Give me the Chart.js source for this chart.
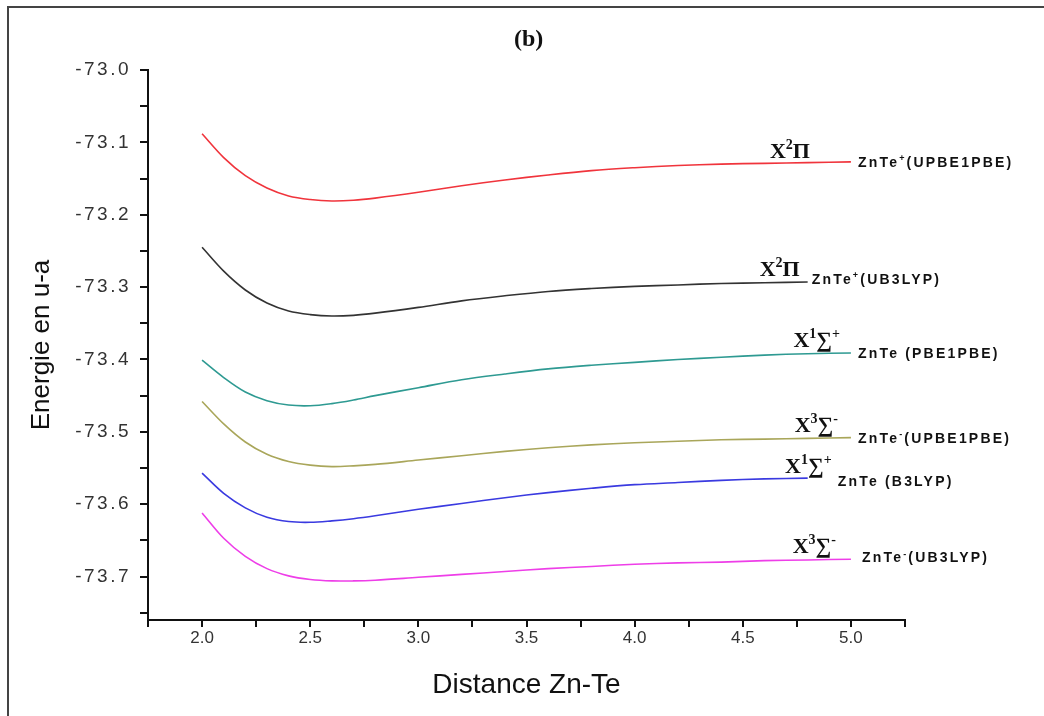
<!DOCTYPE html>
<html>
<head>
<meta charset="utf-8">
<script src="https://cdn.jsdelivr.net/npm/chart.js@4/dist/chart.umd.min.js"></script>
<style>
  html, body { margin: 0; padding: 0; background: #fff; }
  #wrap { position: relative; width: 1044px; height: 716px; }
  #frame { position: absolute; left: 7px; top: 6px; right: -4px; bottom: -4px;
           border-left: 2px solid #444; border-top: 2px solid #444; pointer-events: none; }
</style>
</head>
<body>
<div id="wrap">
  <canvas id="chart" width="1044" height="716"></canvas>
  <div id="frame"></div>
</div>
<script>
// distances (x) shared by all curves
const distance = [2.0, 2.1, 2.2, 2.3, 2.4, 2.5, 2.6, 2.7, 2.8, 3.0, 3.2, 3.4, 3.6, 3.8, 4.0, 4.2, 4.4, 4.6, 4.8, 5.0];

// energies (u-a)
const cationPBE = [-73.088, -73.121, -73.146, -73.163, -73.174, -73.179, -73.181, -73.180, -73.177, -73.169,
  -73.160, -73.152, -73.145, -73.139, -73.135, -73.132, -73.130, -73.129, -73.128, -73.127];
const cationB3LYP = [-73.245, -73.278, -73.304, -73.322, -73.333, -73.338, -73.340, -73.339, -73.336, -73.328,
  -73.319, -73.312, -73.306, -73.302, -73.299, -73.297, -73.295, -73.294, -73.293];
const neutralPBE = [-73.401, -73.425, -73.445, -73.457, -73.463, -73.464, -73.461, -73.456, -73.450, -73.439,
  -73.428, -73.420, -73.413, -73.408, -73.404, -73.400, -73.397, -73.394, -73.392, -73.391];
const anionPBE = [-73.458, -73.489, -73.514, -73.531, -73.541, -73.546, -73.548, -73.547, -73.545, -73.539,
  -73.533, -73.527, -73.522, -73.518, -73.515, -73.513, -73.511, -73.510, -73.509, -73.508];
const neutralB3LYP = [-73.557, -73.585, -73.605, -73.618, -73.624, -73.625, -73.623, -73.620, -73.616, -73.607,
  -73.599, -73.591, -73.584, -73.578, -73.573, -73.570, -73.567, -73.565, -73.564];
const anionB3LYP = [-73.612, -73.647, -73.672, -73.689, -73.699, -73.704, -73.706, -73.706, -73.705, -73.701,
  -73.697, -73.693, -73.689, -73.686, -73.683, -73.681, -73.680, -73.678, -73.677, -73.676];

// labels: [text, isSuperscript]
const stateLabels = [
  [["X", 0], ["2", 1], ["Π", 0]],
  [["X", 0], ["2", 1], ["Π", 0]],
  [["X", 0], ["1", 1], ["∑", 0], ["+", 1]],
  [["X", 0], ["3", 1], ["∑", 0], ["-", 1]],
  [["X", 0], ["1", 1], ["∑", 0], ["+", 1]],
  [["X", 0], ["3", 1], ["∑", 0], ["-", 1]]
];
const methodLabels = [
  [["ZnTe", 0], ["+", 1], ["(UPBE1PBE)", 0]],
  [["ZnTe", 0], ["+", 1], ["(UB3LYP)", 0]],
  [["ZnTe (PBE1PBE)", 0]],
  [["ZnTe", 0], ["-", 1], ["(UPBE1PBE)", 0]],
  [["ZnTe (B3LYP)", 0]],
  [["ZnTe", 0], ["-", 1], ["(UB3LYP)", 0]]
];

const series = [cationPBE, cationB3LYP, neutralPBE, anionPBE, neutralB3LYP, anionB3LYP];
const colors = ["#f0343c", "#333333", "#2e9a92", "#a9a65a", "#3a3ae0", "#ee3ee8"];

// label offsets from the end of each curve (pixels)
const stateOffset = [[-41, -4], [-8, -6], [-11, -6], [-13, -6], [24, -5], [-15, -6]];
const methodOffset = [[7, 0], [4, -3], [7, 0], [7, 0], [30, 3], [11, -2]];

function drawRich(ctx, parts, x, y, size, family, align) {
  const supSize = Math.round(size * 0.62);
  let total = 0;
  parts.forEach(([t, sup]) => {
    ctx.font = "bold " + (sup ? supSize : size) + "px " + family;
    total += ctx.measureText(t).width;
  });
  let cx = align === "right" ? x - total : x;
  parts.forEach(([t, sup]) => {
    ctx.font = "bold " + (sup ? supSize : size) + "px " + family;
    ctx.fillText(t, cx, sup ? y - size * 0.4 : y);
    cx += ctx.measureText(t).width;
  });
}

const labelPlugin = {
  id: "curveLabels",
  afterLayout(chart) {
    // y tick labels in the original are widely spaced
    const s = chart.scales.y;
    if (!s._spaced) {
      const orig = s.drawLabels.bind(s);
      s.drawLabels = function (area) {
        this.ctx.save();
        this.ctx.letterSpacing = "2.5px";
        orig(area);
        this.ctx.letterSpacing = "0px";
        this.ctx.restore();
      };
      s._spaced = true;
    }
  },
  afterDraw(chart) {
    const ctx = chart.ctx;
    const xs = chart.scales.x, ys = chart.scales.y;
    ctx.save();
    ctx.fillStyle = "#111";
    ctx.textBaseline = "alphabetic";
    ctx.textAlign = "left";
    ctx.letterSpacing = "0px";
    ctx.font = "bold 24px 'Liberation Serif'";
    ctx.fillText("(b)", 514, 46);

    series.forEach((vals, i) => {
      const n = vals.length - 1;
      const px = xs.getPixelForValue(distance[n]);
      const py = ys.getPixelForValue(vals[n]);
      ctx.letterSpacing = "0px";
      drawRich(ctx, stateLabels[i], px + stateOffset[i][0], py + stateOffset[i][1], 22, "'Liberation Serif'", "right");
      ctx.letterSpacing = "2.2px";
      drawRich(ctx, methodLabels[i], px + methodOffset[i][0], py + methodOffset[i][1] + 5, 14, "'Liberation Sans'", "left");
    });
    ctx.letterSpacing = "0px";
    ctx.restore();
  }
};

const datasets = series.map((vals, i) => ({
  data: vals.map((v, j) => ({ x: distance[j], y: v })),
  borderColor: colors[i],
  borderWidth: 1.6,
  pointRadius: 0,
  fill: false,
  tension: 0.35
}));

new Chart(document.getElementById("chart"), {
  type: "line",
  data: { datasets },
  options: {
    responsive: false,
    animation: false,
    layout: { padding: { top: 70, right: 139, left: 0, bottom: 0 } },
    plugins: { legend: { display: false }, tooltip: { enabled: false } },
    scales: {
      x: {
        type: "linear",
        min: 1.75,
        max: 5.25,
        afterFit: (s) => { s.height = 96; },
        border: { display: true, color: "#111", width: 2 },
        grid: { drawOnChartArea: false, drawTicks: true, tickLength: 7, color: "#111", lineWidth: 2 },
        ticks: {
          stepSize: 0.25,
          autoSkip: false,
          maxRotation: 0,
          padding: 1,
          color: "#333",
          font: { family: "'Liberation Sans'", size: 17 },
          callback: (v) => (Math.round(v * 100) % 50 === 0 ? v.toFixed(1) : "")
        },
        title: {
          display: true,
          text: "Distance Zn-Te",
          color: "#111",
          font: { family: "'Liberation Sans'", size: 28 },
          padding: { top: 0, bottom: 14 }
        }
      },
      y: {
        type: "linear",
        min: -73.76,
        max: -73.0,
        afterFit: (s) => { s.width = 148; },
        border: { display: true, color: "#111", width: 2 },
        grid: { drawOnChartArea: false, drawTicks: true, tickLength: 8, color: "#111", lineWidth: 2 },
        ticks: {
          stepSize: 0.05,
          includeBounds: false,
          autoSkip: false,
          padding: 9,
          color: "#333",
          font: { family: "'Liberation Sans'", size: 19 },
          callback: (v) => (Math.round(Math.abs(v) * 100) % 10 === 0 ? v.toFixed(1) : "")
        },
        title: {
          display: true,
          text: "Energie en u-a",
          color: "#111",
          font: { family: "'Liberation Sans'", size: 26 },
          padding: { top: 26, bottom: 0 }
        }
      }
    }
  },
  plugins: [labelPlugin]
});
</script>
</body>
</html>
